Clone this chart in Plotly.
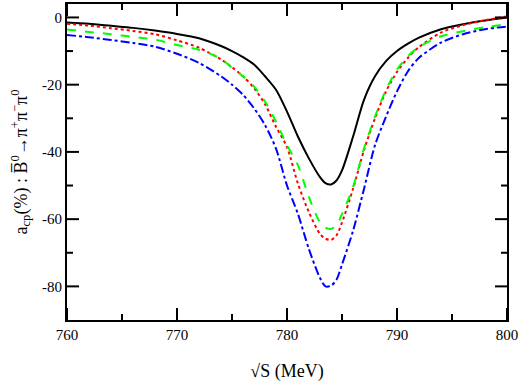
import plotly.graph_objects as go

# sqrt(s) in MeV
energy = [760, 762, 764, 766, 768, 770, 772, 774, 775, 776, 777, 778, 779, 780,
          781, 782, 783, 783.5, 784, 784.5, 785, 786, 787, 788, 789, 790, 791,
          792, 794, 796, 798, 800]

acp_black = [-1.5, -1.9, -2.5, -3.1, -3.9, -4.9, -6.2, -8.5, -10, -11.8, -14, -17.5,
             -21.5, -28, -35.5, -42, -47.5, -49.3, -49.7, -48.5, -45.5, -35.5,
             -24.5, -17.5, -13, -10, -7.8, -6, -3.5, -2, -0.9, 0]
acp_red = [-1.9, -2.4, -3.2, -4.0, -5.0, -6.8, -9.0, -12.5, -14.8, -17.5, -21, -25.8,
           -32.5, -38.6, -49.5, -58, -64.4, -65.8, -66.2, -64.8, -61, -51, -39.5,
           -30, -22, -16.2, -12, -8.8, -4.5, -2.3, -0.8, 0.3]
acp_green = [-3.6, -4.3, -5.0, -5.8, -6.6, -8.2, -9.6, -12.3, -15, -17.5, -20.5, -25,
             -31, -38, -44, -53.5, -61, -62.5, -62.9, -61.8, -58.5, -50.5, -39,
             -29.5, -21.5, -15.5, -11.5, -8.8, -5.6, -4.1, -2.9, -2]
acp_blue = [-5.2, -5.9, -6.7, -7.6, -8.7, -10.8, -13.5, -17.5, -20, -23, -27, -32,
            -39, -50, -58.5, -69, -77.5, -80, -79.8, -78, -73.5, -63.5, -51, -38,
            -29.5, -22, -16, -12, -7.5, -5, -3.5, -2.7]

x_ticks = [760, 770, 780, 790, 800]
x_minor = [765, 775, 785, 795]
y_ticks = [0, -20, -40, -60, -80]
y_ticktext = ["0", "-20", "-40", "-60", "-80"]
y_minor = [-10, -30, -50, -70]

x_range = [760, 800]
y_range = [-90, 4]

W, H = 521, 382
M = dict(l=67, r=14, t=2, b=62)
plot_w = W - M["l"] - M["r"]
plot_h = H - M["t"] - M["b"]
# data units per pixel, to turn tick lengths in px into data lengths
x_per_px = (x_range[1] - x_range[0]) / plot_w
y_per_px = (y_range[1] - y_range[0]) / plot_h

fig = go.Figure()
series = [
    (acp_black, "black", "solid"),
    (acp_red, "#ff0000", "dot"),
    (acp_green, "#00ff00", "dash"),
    (acp_blue, "#0000ff", "dashdot"),
]
for ys, col, dash in series:
    fig.add_trace(go.Scatter(
        x=energy, y=ys, mode="lines",
        line=dict(color=col, width=2, dash=dash, shape="spline", smoothing=0.8),
        showlegend=False
    ))

# inward tick marks on all four sides (major 12px, minor 6px) as one line trace
tx, ty = [], []
for vals, ln in ((x_ticks, 12), (x_minor, 6)):
    d = ln * y_per_px
    for v in vals:
        tx += [v, v, None, v, v, None]
        ty += [y_range[0], y_range[0] + d, None, y_range[1], y_range[1] - d, None]
for vals, ln in ((y_ticks, 12), (y_minor, 6)):
    d = ln * x_per_px
    for v in vals:
        tx += [x_range[0], x_range[0] + d, None, x_range[1], x_range[1] - d, None]
        ty += [v, v, None, v, v, None]
fig.add_trace(go.Scatter(x=tx, y=ty, mode="lines", line=dict(color="black", width=2),
                         showlegend=False, hoverinfo="skip", cliponaxis=False))

font = dict(family="Liberation Serif, Times New Roman, serif", size=15, color="black")
fig.update_layout(
    width=W, height=H, margin=M,
    plot_bgcolor="white", paper_bgcolor="white",
    font=font,
    xaxis=dict(range=x_range, tickmode="array", tickvals=x_ticks, ticks="",
               showline=True, linecolor="black", linewidth=2, mirror=True,
               showgrid=False, zeroline=False,
               title=dict(text="√S (MeV)", standoff=22)),
    yaxis=dict(range=y_range, tickmode="array", tickvals=y_ticks, ticktext=y_ticktext,
               ticks="", showline=True, linecolor="black", linewidth=2, mirror=True,
               showgrid=False, zeroline=False,
               title=dict(text="a<sub>cp</sub>(%) : B\u0305<sup>0</sup>\u2192\u03c0<sup>+</sup>"
                               "\u03c0<sup>\u2212</sup>\u03c0<sup>0</sup>", standoff=10)),
)

# drop the default page margin so the figure sits at the window's corner
fig.write_html("out.html", config={"displayModeBar": False},
               post_script="document.body.style.margin='0';")
